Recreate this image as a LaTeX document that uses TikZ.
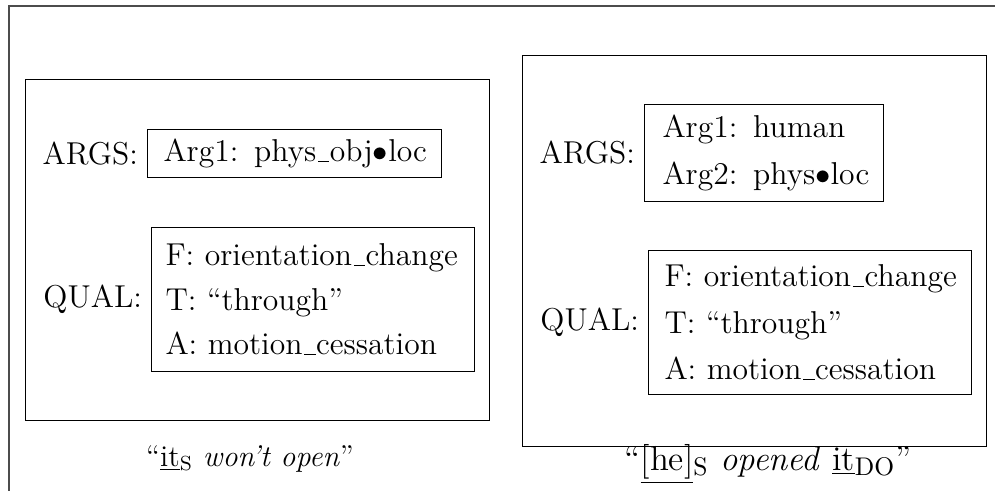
\documentclass[tikz,border=0pt]{standalone}
% one drawing unit (a "pixel") in points
\def\pxu{0.392pt}
% low, rule-style underscore as in classic LaTeX
\newcommand\usc{\leavevmode\kern.06em\vbox{\hrule width.35em}\kern.02em}
\newcommand\dotsep{$\bullet$}
\tikzset{
  panel/.style={draw, anchor=north west, inner sep=0pt},
  featbox/.style={draw, anchor=north west, align=left, inner ysep=0pt},
  featlabel/.style={anchor=east},
  caption/.style={anchor=base},
}
\begin{document}
\begin{tikzpicture}[x=\pxu, y=-\pxu, font=\fontsize{12.4}{14.5}\selectfont]
\useasboundingbox (0,0) rectangle (995,491);

% outer frame (continues past the right and bottom edges)
\draw[black!70] (9,495) -- (9,6) -- (999,6);

% ---------- left structure ----------
\node[panel, minimum width=464*\pxu, minimum height=341*\pxu] (lpanel) at (25,79) {};

\node[featbox, minimum width=294*\pxu, minimum height=48*\pxu,
      text width=262*\pxu, inner xsep=16*\pxu] (largs) at (147,129)
  {\mbox{Arg1: phys\usc obj\dotsep loc}};
\node[featlabel] (largsl) at (largs.west) {ARGS:};

\node[featbox, minimum width=323*\pxu, minimum height=144*\pxu,
      text width=295*\pxu, inner xsep=14*\pxu,
      font=\fontsize{12.4}{17.5}\selectfont] (lqual) at (151,227)
  {\mbox{F: orientation\usc change}\\
   \mbox{T: \textquotedblleft through\textquotedblright}\\
   \mbox{A: motion\usc cessation}};
\node[featlabel] (lquall) at (lqual.west) {QUAL:};

\node[caption, font=\fontsize{11.8}{13}\selectfont] (lcap) at (250,466)
  {\textquotedblleft\underline{it}$_{\mathrm{S}}$ \textit{won\textquoteright t open}\textquotedblright};

% ---------- right structure ----------
\node[panel, minimum width=464*\pxu, minimum height=391*\pxu] (rpanel) at (522,55) {};

\node[featbox, minimum width=239*\pxu, minimum height=97*\pxu,
      text width=203*\pxu, inner xsep=18*\pxu,
      font=\fontsize{12.4}{18.4}\selectfont] (rargs) at (644,104)
  {\mbox{Arg1: human}\\
   \mbox{Arg2: phys\dotsep loc}};
\node[featlabel] (rargsl) at (rargs.west) {ARGS:};

\node[featbox, minimum width=323*\pxu, minimum height=144*\pxu,
      text width=291*\pxu, inner xsep=16*\pxu,
      font=\fontsize{12.4}{18.2}\selectfont] (rqual) at (648,250)
  {\mbox{F: orientation\usc change}\\
   \mbox{T: \textquotedblleft through\textquotedblright}\\
   \mbox{A: motion\usc cessation}};
\node[featlabel] (rquall) at (rqual.west) {QUAL:};

\node[caption, font=\fontsize{13.6}{16}\selectfont] (rcap) at (768,470)
  {\textquotedblleft\underline{[he]}$_{\mathrm{S}}$ \textit{opened} \underline{it}$_{\mathrm{DO}}$\textquotedblright};
\end{tikzpicture}
\end{document}
